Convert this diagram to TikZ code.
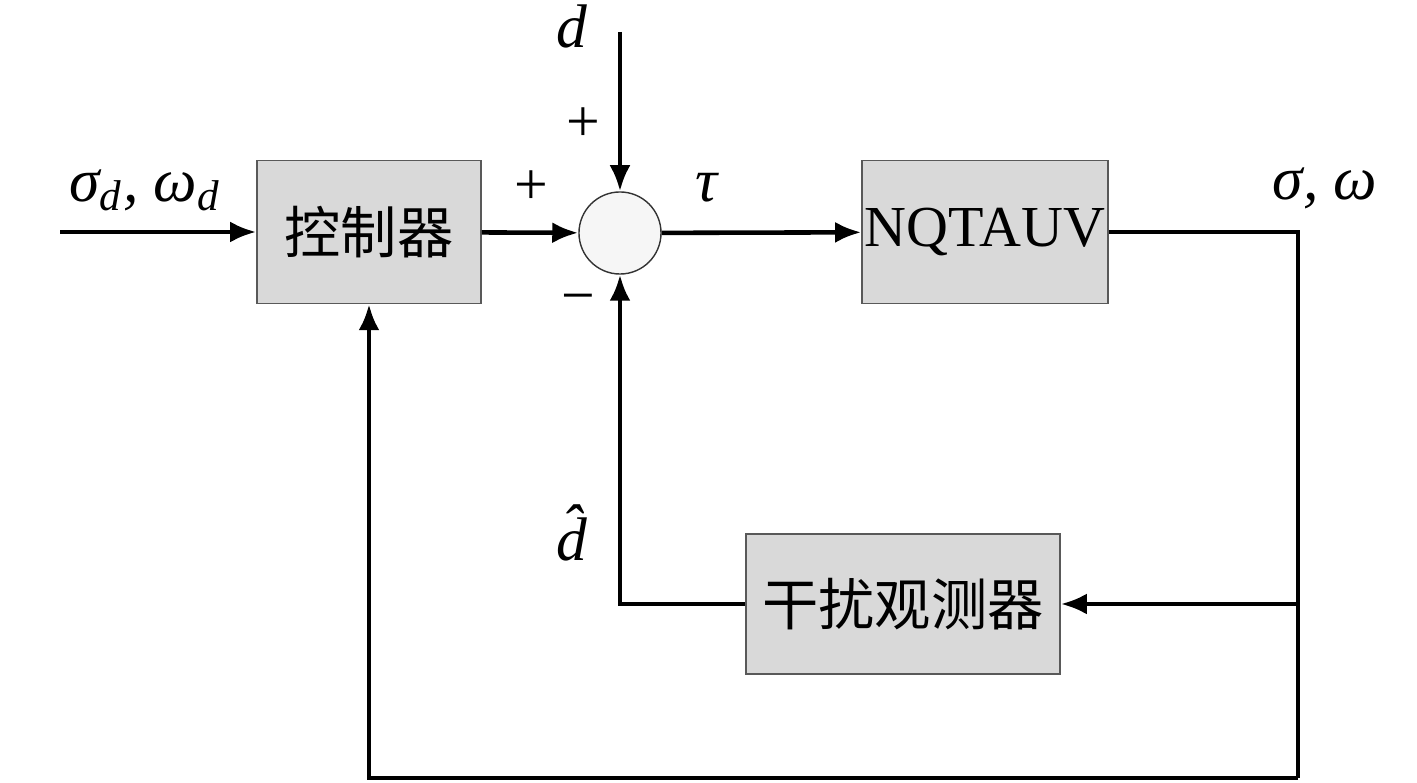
\documentclass[tikz,border=0pt]{standalone}
\usepackage{fontspec}
\setmainfont{Liberation Serif}
\newfontfamily\cjk{Noto Sans CJK SC}
\usetikzlibrary{arrows.meta,positioning,calc}
\tikzset{
  blk/.style={draw=black!65, fill=gray!30, minimum height=1.43cm, inner sep=2pt},
  sumc/.style={draw=black!80, circle, fill=gray!7, minimum size=0.82cm, inner sep=0pt},
  arr/.style={-{Latex[length=2.6mm,width=2.1mm]}, line width=1.3pt},
  ln/.style={line width=1.3pt},
  lbl/.style={font=\fontsize{17.5}{20}\selectfont\itshape},
  sgn/.style={font=\fontsize{17}{20}\selectfont},
  zh/.style={font=\cjk\fontsize{16}{18}\selectfont},
}

\begin{document}
\begin{tikzpicture}[x=0.01cm,y=-0.01cm]
\useasboundingbox (0,0) rectangle (1417,783);
% blocks
\node[blk, zh, minimum width=2.24cm] (ctrl) at (369,232) {控制器};
\node[sumc] (sum) at (620,233) {};
\node[blk, font=\fontsize{16.5}{20}\selectfont, inner sep=0pt, minimum width=2.46cm] (plant) at (985,232) {NQTAUV};
\node[blk, zh, minimum width=3.14cm, minimum height=1.4cm] (obs) at (903,604) {干扰观测器};
% loose ends
\coordinate (in) at (60,232);
\coordinate (dist) at (620,32);
\coordinate (out) at (1298,232);
\coordinate (br) at (1298,604);
\coordinate (bot) at (1298,778);
% signals
\draw[arr] (in) -- (ctrl);
\draw[arr] (ctrl) -- (sum);
\draw[arr] (dist) -- (sum);
\draw[arr] (sum) -- (plant);
\draw[ln] (plant) -- (out) -- (bot);
\draw[arr] (br) -- (obs);
\draw[arr] (obs.west) -| (sum.south);
\draw[arr] (bot) -| (ctrl.south);
% labels
\node[lbl] (lref) at (145,190) {σ\textsubscript{d}, ω\textsubscript{d}};
\node[lbl] (ld) at (572,26) {d};
\node[sgn] (ptop) at (583,125) {+};
\node[sgn] (pleft) at (531,188) {+};
\node[sgn] (mbot) at (578,305) {−};
\node[lbl] (ltau) at (707,188) {τ};
\node[lbl] (lout) at (1325,188) {σ, ω};
\node[lbl] (ldh) at (572,533) {\^{d}};
\end{tikzpicture}
\end{document}
